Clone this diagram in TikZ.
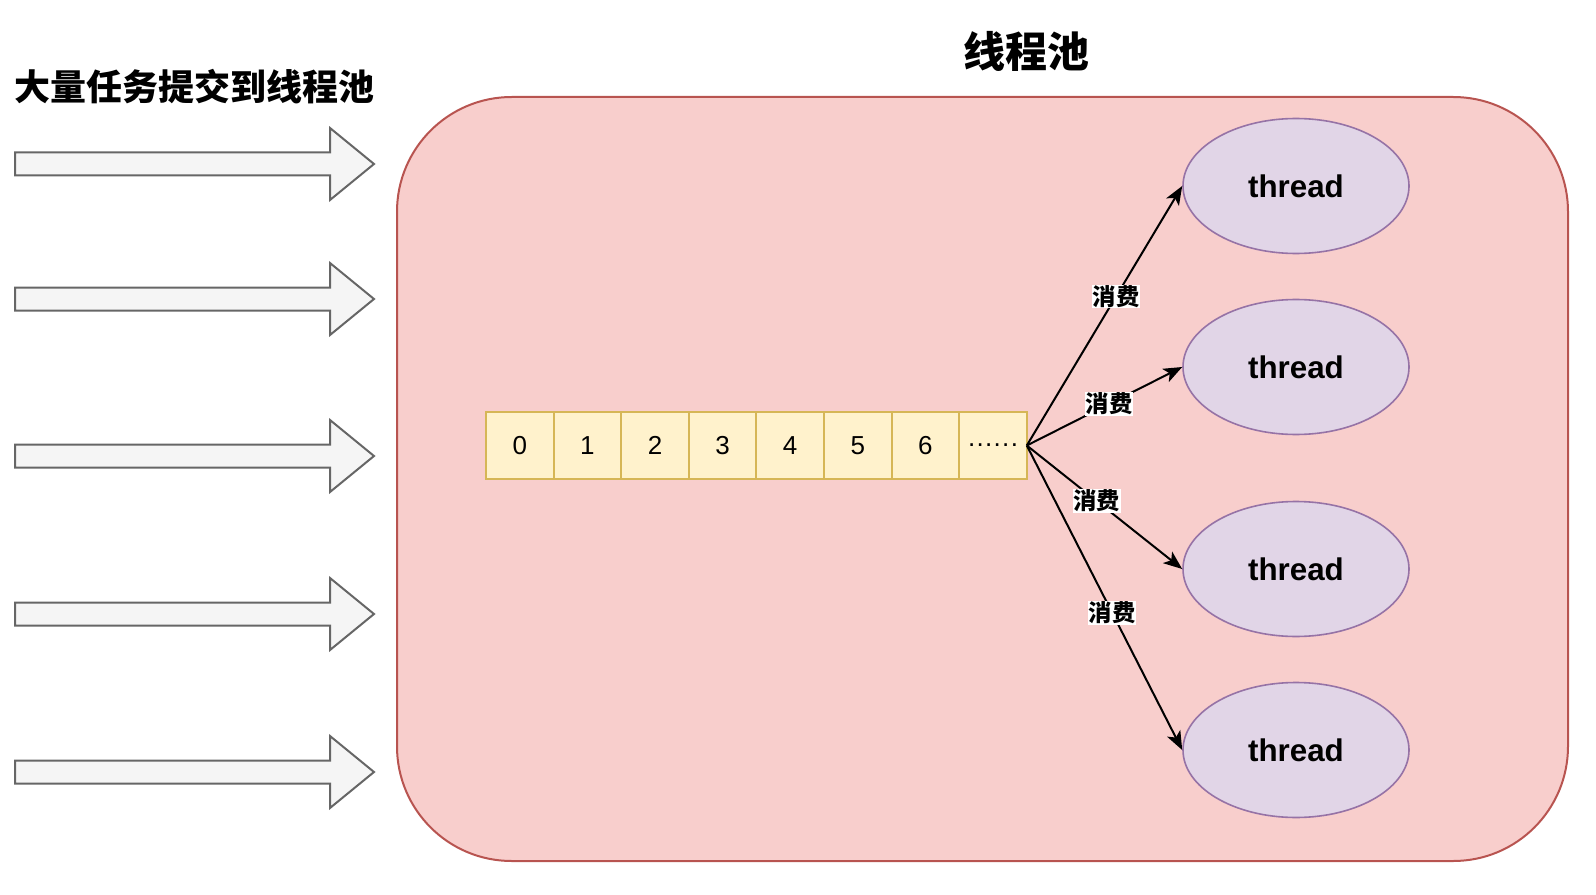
\documentclass[tikz,border=0pt]{standalone}
\usepackage{fontspec}
\setmainfont{Liberation Sans}
\newfontfamily\cjk{Noto Sans CJK SC}
\usetikzlibrary{arrows.meta,shapes.geometric}

\definecolor{poolfill}{HTML}{F8CECC}
\definecolor{pooldraw}{HTML}{B85450}
\definecolor{cellfill}{HTML}{FFF2CC}
\definecolor{celldraw}{HTML}{D6B656}
\definecolor{thrfill}{HTML}{E1D5E7}
\definecolor{thrdraw}{HTML}{9673A6}
\definecolor{inputfill}{HTML}{F5F5F5}
\definecolor{inputdraw}{HTML}{666666}

\begin{document}
\begin{tikzpicture}[x=0.75pt,y=-0.75pt,>=Stealth,
 pool/.style={draw=pooldraw,fill=poolfill,line width=1.5pt,rounded corners=86pt,
  minimum width=878.25pt,minimum height=573pt},
 cell/.style={draw=celldraw,fill=cellfill,line width=1.5pt,inner sep=0pt,outer sep=0pt,
  minimum width=50.7pt,minimum height=50.25pt,font=\fontsize{19.5}{22}\selectfont},
 thr/.style={ellipse,draw=thrdraw,fill=thrfill,line width=1.2pt,
  minimum width=169.5pt,minimum height=101.25pt,font=\fontsize{23.5}{26}\selectfont\bfseries},
 inarrow/.style={draw=inputdraw,fill=inputfill,line width=1.5pt},
 flow/.style={line width=1.5pt,-{Stealth[length=14pt,width=11pt,inset=3.5pt]}},
 lbl/.style={fill=white,inner sep=0.5pt,font=\cjk\bfseries\fontsize{17.5}{19}\selectfont}]
 \useasboundingbox (0,0) rectangle (1596,895);
 % submitted tasks
 \node[font=\cjk\bfseries\fontsize{27}{30}\selectfont] (ttl) at (194.5,87) {大量任务提交到线程池};
 \foreach \y in {164,299,456,614,772}
  \draw[inarrow] (15,\y-11.5) -- (330,\y-11.5) -- (330,\y-36) -- (374,\y)
   -- (330,\y+36) -- (330,\y+11.5) -- (15,\y+11.5) -- cycle;
 % pool
 \node[pool] (pool) at (982.5,479) {};
 \node[font=\cjk\bfseries\fontsize{31.5}{34}\selectfont] (pooltitle) at (1026.5,51) {线程池};
 \foreach \i/\v in {0/0,1/1,2/2,3/3,4/4,5/5,6/6,7/{.\kern1pt.\kern1pt.\kern1pt.\kern1pt.\kern1pt.}}
  \node[cell] (q\i) at ({486+67.6*(\i+0.5)},445.5) {\v};
 \node[thr] (t1) at (1296,186) {thread};
 \node[thr] (t2) at (1296,367) {thread};
 \node[thr] (t3) at (1296,569) {thread};
 \node[thr] (t4) at (1296,750) {thread};
 \draw[flow] (q7.east) -- node[lbl,pos=.575] {消费} (t1.west);
 \draw[flow] (q7.east) -- node[lbl,pos=.53] {消费} (t2.west);
 \draw[flow] (q7.east) -- node[lbl,pos=.45] {消费} (t3.west);
 \draw[flow] (q7.east) -- node[lbl,pos=.55] {消费} (t4.west);
\end{tikzpicture}
\end{document}
